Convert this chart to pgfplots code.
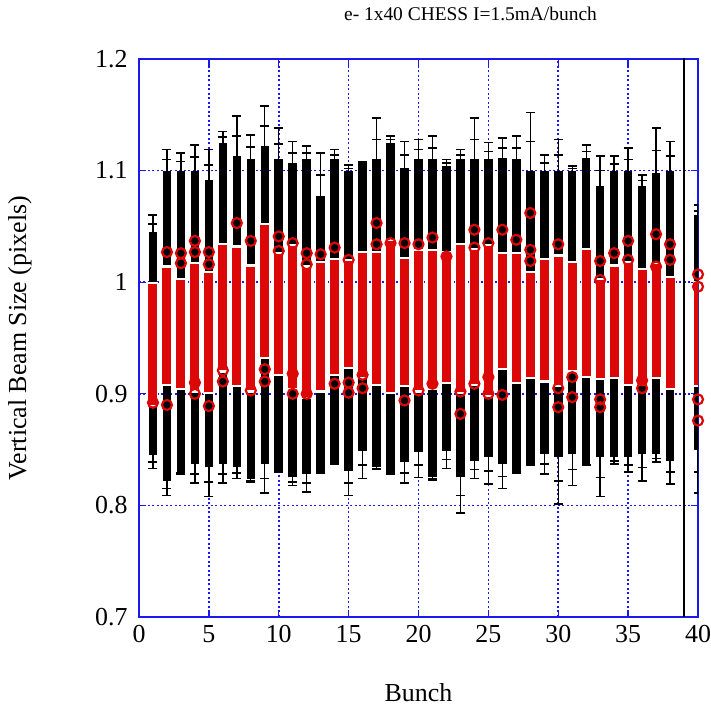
\documentclass[border=0pt]{standalone}
\usepackage{fontspec}
\setmainfont{Liberation Serif}
\usepackage{pgfplots}
\usepackage{pgfplotstable}
\pgfplotsset{compat=1.18}
\definecolor{gblue}{RGB}{25,25,235}
\definecolor{rred}{RGB}{220,8,8}
\pgfplotstableread{
x whi ihi bhi rhi rlo blo ilo wlo
1 1.060 1.052 1.045 0.998 0.890 0.845 0.839 0.833
2 1.119 1.110 1.100 1.013 0.909 0.822 0.815 0.809
3 1.116 1.108 1.100 1.002 0.905 0.830 0.829 0.828
4 1.123 1.112 1.100 1.016 0.903 0.837 0.828 0.820
5 1.119 1.105 1.092 1.008 0.902 0.834 0.821 0.808
6 1.135 1.130 1.125 1.033 0.921 0.837 0.828 0.820
7 1.149 1.131 1.113 1.031 0.908 0.834 0.829 0.824
8 1.132 1.121 1.110 1.014 0.903 0.824 0.822 0.821
9 1.158 1.140 1.122 1.051 0.933 0.837 0.824 0.811
10 1.138 1.124 1.110 1.025 0.918 0.831 0.830 0.830
11 1.126 1.116 1.107 1.032 0.905 0.825 0.821 0.818
12 1.122 1.116 1.110 1.013 0.897 0.828 0.820 0.812
13 1.116 1.096 1.077 1.017 0.903 0.831 0.830 0.829
14 1.119 1.114 1.110 1.020 0.918 0.839 0.838 0.837
15 1.105 1.102 1.100 1.019 0.924 0.831 0.820 0.809
16 1.108 1.107 1.106 1.026 0.915 0.849 0.836 0.824
17 1.147 1.128 1.110 1.026 0.909 0.834 0.833 0.832
18 1.131 1.128 1.125 1.037 0.902 0.830 0.829 0.828
19 1.126 1.114 1.102 1.021 0.908 0.839 0.829 0.820
20 1.128 1.119 1.110 1.028 0.903 0.848 0.836 0.825
21 1.131 1.120 1.110 1.028 0.905 0.825 0.824 0.823
22 1.110 1.107 1.104 1.026 0.911 0.849 0.841 0.833
23 1.119 1.114 1.110 1.033 0.902 0.825 0.809 0.793
24 1.147 1.128 1.110 1.029 0.909 0.840 0.832 0.824
25 1.125 1.117 1.110 1.032 0.899 0.843 0.831 0.819
26 1.129 1.120 1.111 1.025 0.923 0.837 0.826 0.815
27 1.131 1.120 1.110 1.025 0.911 0.830 0.829 0.829
28 1.152 1.126 1.100 1.008 0.915 0.837 0.836 0.836
29 1.114 1.107 1.100 1.020 0.912 0.846 0.837 0.828
30 1.128 1.114 1.100 1.023 0.908 0.843 0.822 0.801
31 1.104 1.102 1.100 1.017 0.921 0.846 0.832 0.818
32 1.123 1.117 1.111 1.029 0.916 0.837 0.836 0.836
33 1.113 1.100 1.086 1.002 0.914 0.843 0.825 0.808
34 1.113 1.106 1.100 1.014 0.915 0.843 0.840 0.837
35 1.120 1.110 1.100 1.017 0.909 0.843 0.836 0.830
36 1.096 1.091 1.086 1.011 0.909 0.846 0.834 0.822
37 1.138 1.118 1.098 1.016 0.915 0.846 0.842 0.839
38 1.126 1.113 1.100 1.004 0.905 0.840 0.830 0.819
40 1.069 1.064 1.060 0.999 0.908 0.850 0.830 0.811
}\bunches
\pgfplotstableread{
x y
1 0.892
2 1.027
2 0.890
3 1.026
3 1.017
4 1.037
4 1.027
4 0.910
4 0.900
5 1.027
5 1.016
5 0.889
6 0.911
6 0.921
7 1.053
8 1.037
8 0.903
9 0.911
9 0.922
10 1.041
10 1.028
11 1.035
11 0.900
11 0.918
12 1.026
12 1.016
12 0.900
13 1.025
14 1.031
14 0.909
15 1.020
15 0.901
15 0.910
16 0.905
16 0.917
17 1.053
17 1.034
18 1.035
19 1.035
19 0.894
20 1.034
20 0.903
21 1.040
21 0.909
22 1.023
23 0.882
23 0.902
24 1.047
24 1.031
24 0.909
25 1.035
25 0.900
25 0.915
26 1.047
26 0.899
27 1.038
28 1.062
28 1.029
28 1.019
30 1.034
30 0.888
30 0.905
31 0.897
31 0.915
33 1.019
33 1.002
33 0.895
33 0.888
34 1.026
35 1.037
35 1.020
36 0.905
36 0.912
37 1.043
37 1.014
38 1.034
38 1.020
40 1.007
40 0.996
40 0.895
40 0.876
}\outliers
\begin{document}
\begin{tikzpicture}
\begin{axis}[
  name=main,
  scale only axis, width=559bp, height=558bp,
  xmin=0, xmax=40, ymin=0.7, ymax=1.2,
  xtick={0,5,...,40}, ytick={0.7,0.8,0.9,1,1.1,1.2},
  /pgf/number format/assume math mode=true,
  tick label style={font=\fontsize{26}{26}\selectfont, black},
  label style={font=\fontsize{26}{28}\selectfont},
  title style={font=\fontsize{19.5}{22}\selectfont},
  title={e- 1x40 CHESS I=1.5mA/bunch},
  xlabel={Bunch},
  ylabel={Vertical Beam Size (pixels)},
  xlabel style={at={(axis description cs:0.5,0)}, anchor=center, yshift=-76bp},
  ylabel style={at={(axis description cs:0,0.5)}, anchor=center, yshift=119bp},
  title style={at={(axis description cs:0.593,1)}, anchor=center, yshift=39bp},
  axis line style={gblue, line width=2bp},
  tick style={gblue, line width=1.3bp},
  major tick length=7bp,
  tick align=inside,
  grid=major,
  major grid style={gblue, line width=1.6bp, dash pattern=on 2bp off 2.5bp},
  xticklabel style={yshift=-5bp},
  yticklabel style={xshift=-8bp},
]
% black dense core of stacked error bars
\addplot[forget plot, draw=none, mark=none,
  error bars/.cd, y dir=plus, y explicit, error mark=none,
  error bar style={draw=black, line width=8.5bp}]
  table[x=x, y=blo, y error expr=\thisrow{bhi}-\thisrow{blo}] {\bunches};
% whiskers with caps
\addplot[forget plot, draw=none, mark=none,
  error bars/.cd, y dir=both, y explicit, error mark=-,
  error mark options={draw=black, line width=1.6bp, mark size=4.5bp, rotate=90},
  error bar style={draw=black, line width=1.4bp}]
  table[x=x, y expr=(\thisrow{whi}+\thisrow{wlo})/2, y error expr=(\thisrow{whi}-\thisrow{wlo})/2] {\bunches};
% inner caps
\addplot[forget plot, draw=none, mark=none,
  error bars/.cd, y dir=both, y explicit, error mark=-,
  error mark options={draw=black, line width=1.6bp, mark size=4.5bp, rotate=90},
  error bar style={draw=black, line width=1.4bp}]
  table[x=x, y expr=(\thisrow{ihi}+\thisrow{ilo})/2, y error expr=(\thisrow{ihi}-\thisrow{ilo})/2] {\bunches};
% white halo round the red core
\addplot[forget plot, draw=none, mark=none,
  error bars/.cd, y dir=plus, y explicit, error mark=none,
  error bar style={draw=white, line width=11bp}]
  table[x=x, y expr=\thisrow{rlo}-0.002, y error expr=\thisrow{rhi}-\thisrow{rlo}+0.004] {\bunches};
% red dense core of stacked points
\addplot[forget plot, draw=none, mark=none,
  error bars/.cd, y dir=plus, y explicit, error mark=none,
  error bar style={draw=rred, line width=9bp}]
  table[x=x, y=rlo, y error expr=\thisrow{rhi}-\thisrow{rlo}] {\bunches};
% outlying red points
\addplot[forget plot, only marks, mark=o, mark size=5bp,
  mark options={draw=rred, line width=2.2bp, fill=none}] table[x=x, y=y] {\outliers};
% bunch 39 : error bar spanning the whole range
\addplot[forget plot, black, line width=1.8bp] coordinates {(39,0.6) (39,1.3)};
\end{axis}
\pgfresetboundingbox
\path ([xshift=-139bp, yshift=-93bp]main.south west) rectangle ([xshift=13bp, yshift=59bp]main.north east);
\end{tikzpicture}
\end{document}
